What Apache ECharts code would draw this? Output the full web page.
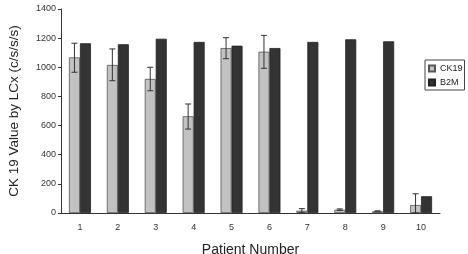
<!DOCTYPE html>
<html>
<head>
<meta charset="utf-8">
<script src="https://cdn.jsdelivr.net/npm/echarts@6/dist/echarts.min.js"></script>
<style>
  html, body { margin: 0; padding: 0; background: #fff; }
  #chart { width: 468px; height: 254px; }
</style>
</head>
<body>
<div id="chart"></div>
<script>
// values
const patients = ['1', '2', '3', '4', '5', '6', '7', '8', '9', '10'];
const ck19 = [1068, 1016, 920, 664, 1132, 1107, 16, 23, 12, 55];
const ck19Low = [966, 908, 839, 576, 1059, 993, 5, 18, 9, 0];
const ck19High = [1165, 1126, 1000, 748, 1203, 1219, 30, 28, 15, 132];
const b2m = [1165, 1158, 1196, 1174, 1148, 1132, 1174, 1192, 1178, 115];

const barPct = 0.29;
const errData = patients.map((p, i) => [i, ck19Low[i], ck19High[i]]);

let myChart = echarts.init(document.getElementById('chart'));
let option = {
  animation: false,
  textStyle: { fontFamily: 'Liberation Sans, Arial, sans-serif' },
  grid: { left: 61, right: 28, top: 9, bottom: 41, outerBoundsMode: 'none', containLabel: false },
  legend: {
    orient: 'vertical',
    left: 425, top: 60,
    padding: [4, 2, 3, 3],
    itemGap: 5,
    itemWidth: 6, itemHeight: 6,
    borderColor: '#444', borderWidth: 1,
    textStyle: { fontSize: 9, color: '#222' },
    data: [
      { name: 'CK19', icon: 'rect' },
      { name: 'B2M', icon: 'rect' }
    ]
  },
  xAxis: {
    type: 'category',
    data: patients,
    name: 'Patient Number',
    nameLocation: 'middle',
    nameGap: 30,
    nameTextStyle: { fontSize: 14, color: '#222' },
    axisLine: { lineStyle: { color: '#333' } },
    axisTick: { length: 4, lineStyle: { color: '#333' } },
    axisLabel: { fontSize: 9, color: '#333', margin: 10 }
  },
  yAxis: {
    type: 'value',
    min: 0, max: 1400, interval: 200,
    name: 'CK 19 Value by LCx (c/s/s/s)',
    nameLocation: 'middle',
    nameGap: 40,
    nameTextStyle: { fontSize: 13.5, color: '#222' },
    axisLine: { show: true, lineStyle: { color: '#333' } },
    axisTick: { show: true, length: 3, lineStyle: { color: '#333' } },
    axisLabel: { fontSize: 9, color: '#333', margin: 5, formatter: v => String(v) },
    splitLine: { show: false }
  },
  series: [
    {
      name: 'CK19',
      type: 'bar',
      data: ck19,
      barWidth: (barPct * 100) + '%',
      barGap: '0%',
      itemStyle: { color: '#c2c2c2', borderColor: '#555', borderWidth: 0.8 }
    },
    {
      name: 'B2M',
      type: 'bar',
      data: b2m,
      barWidth: (barPct * 100) + '%',
      barGap: '0%',
      itemStyle: { color: '#333333', borderColor: '#222', borderWidth: 0.8 }
    },
    {
      type: 'custom',
      name: 'err',
      data: errData,
      z: 10,
      renderItem: function (params, api) {
        const i = api.value(0);
        const lo = api.coord([i, api.value(1)]);
        const hi = api.coord([i, api.value(2)]);
        const w = api.size([1, 0])[0] * barPct;
        const x = lo[0] - w / 2;
        const cap = 3;
        const style = { stroke: '#333', lineWidth: 1 };
        return {
          type: 'group',
          children: [
            { type: 'line', shape: { x1: x, y1: lo[1], x2: x, y2: hi[1] }, style: style },
            { type: 'line', shape: { x1: x - cap, y1: lo[1], x2: x + cap, y2: lo[1] }, style: style },
            { type: 'line', shape: { x1: x - cap, y1: hi[1], x2: x + cap, y2: hi[1] }, style: style }
          ]
        };
      }
    }
  ]
};
myChart.setOption(option);
</script>
</body>
</html>
